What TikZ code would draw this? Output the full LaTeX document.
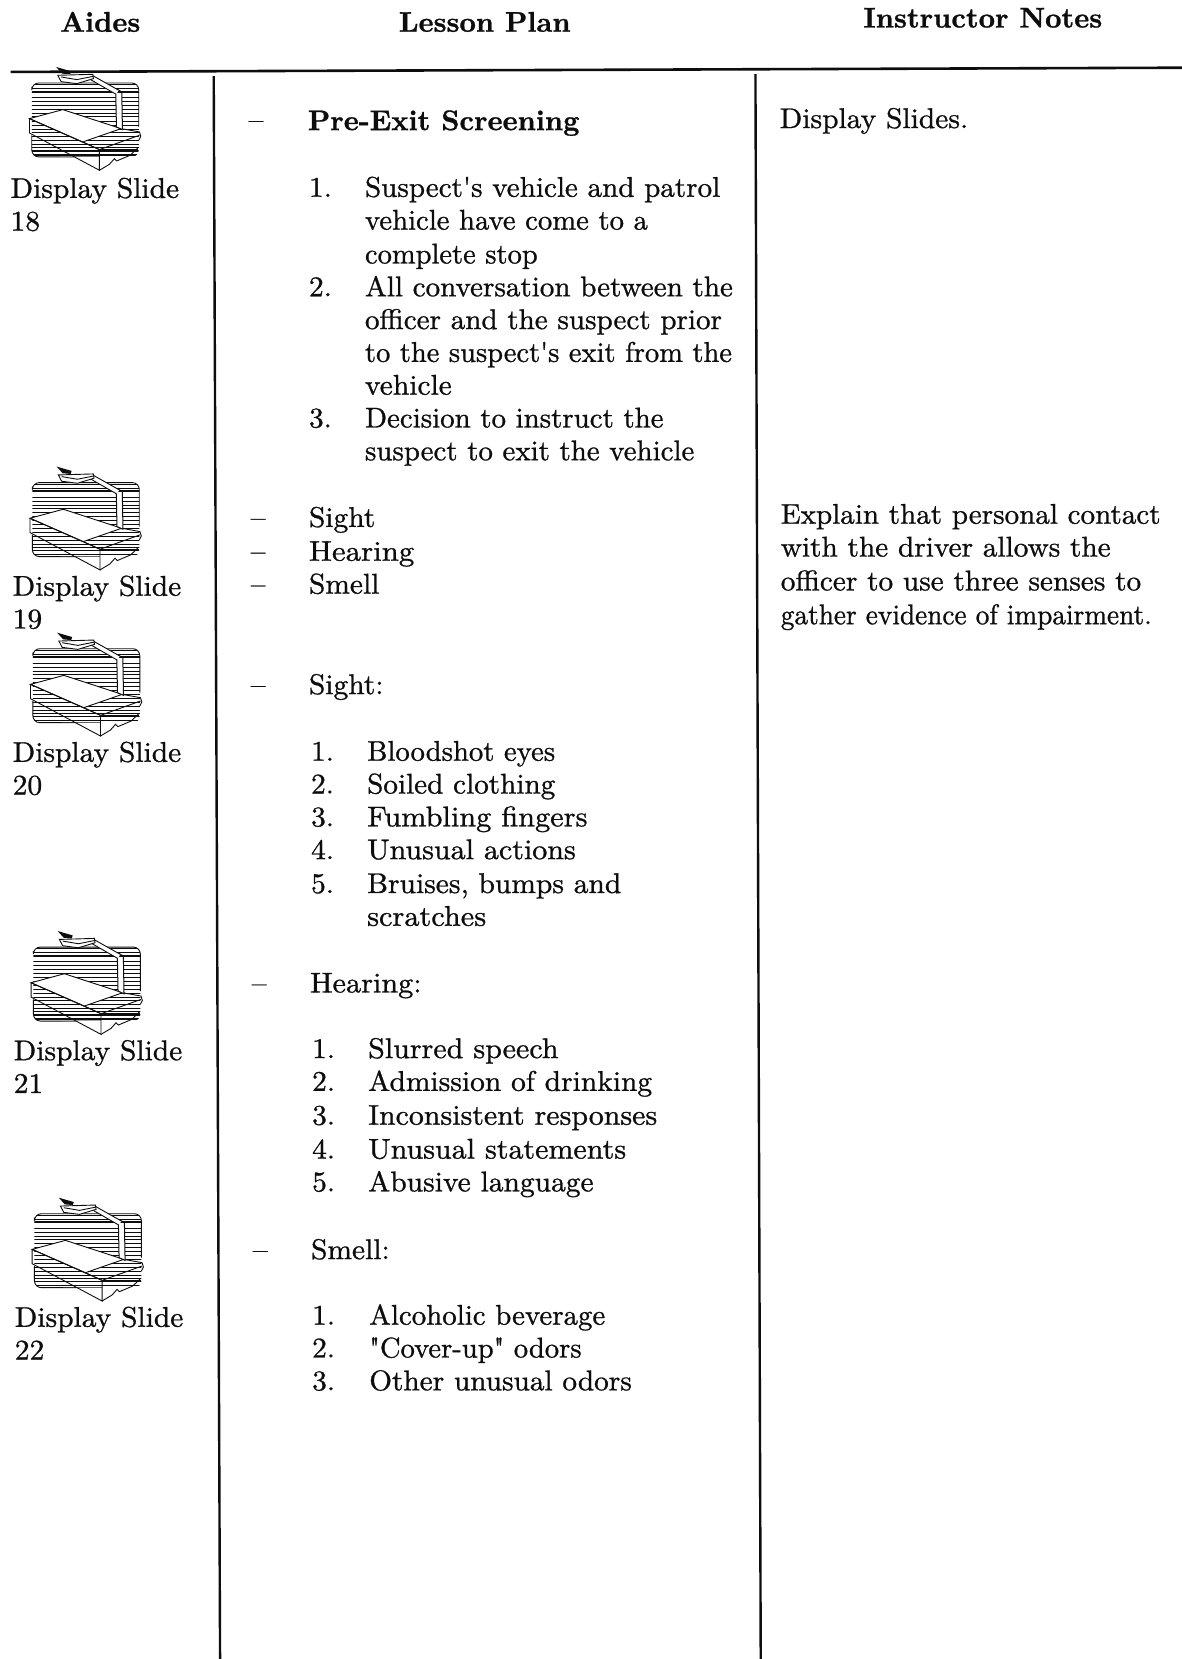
\documentclass[tikz,border=0pt]{standalone}
\usepackage{graphicx}
\newcounter{tn}
\newcommand{\heavy}{\special{pdf: code 2 Tr 0.09 w}}
\newcommand{\plain}{\special{pdf: code 0 Tr}}
\newcommand{\tx}[4][2.95]{\stepcounter{tn}\node[txt] (t\arabic{tn}) at (#2,#3) {\scalebox{#1}[2.85]{\heavy #4\plain}};}
\newcommand{\ap}{\textquotesingle}
\newcommand{\iconat}[2]{%
\begin{scope}[shift={(#1,#2)},x=0.3333pt,y=-0.3333pt]
 \begin{scope}
  \clip[rounded corners=7pt] (97,68) rectangle (418,290);
  \foreach \yy/\ww in {72/0.8,84/0.8,94/1.8,112/0.7,124/0.7,136/1.1,146/0.7,158/0.7,170/1,182/0.7,194/0.7,206/0.7,218/1,228/0.7,240/0.7,252/0.7,262/1,272/1.6,284/1.6}
   \draw[ink,line width=\ww pt] (90,\yy) -- (425,\yy);
 \end{scope}
 \draw[ink,line width=0.9pt,rounded corners=7pt] (97,80) -- (97,68) -- (418,68) -- (418,200);
 \draw[ink,line width=0.9pt,rounded corners=7pt] (97,225) -- (97,290) -- (300,290);
 % base and plate
 \fill[white] (183,290) -- (300,290) -- (300,330) -- (222,290) -- cycle;
 \fill[white] (300,330) -- (300,290) -- (400,290) -- (345,300) -- cycle;
 \fill[white] (90,175) -- (190,148) -- (365,205) -- (250,245) -- cycle;
 \draw[ink,line width=0.9pt] (90,175) -- (190,148) -- (365,205) -- (250,245) -- cycle;
 \draw[ink,line width=0.9pt] (90,175) -- (90,218) -- (300,330) -- (300,268) -- (90,175);
 \draw[ink,line width=0.9pt] (250,245) -- (300,268) -- (420,225);
 \draw[ink,line width=0.9pt] (365,205) -- (420,215) -- (424,228) -- (418,240);
 \draw[ink,line width=0.9pt] (300,330) -- (330,312) -- (345,295) -- (352,302) -- (392,285) -- (416,262);
 \fill[ink] (300,266) rectangle (416,274);
 % post and arm
 \fill[white] (349,100) -- (367,100) -- (369,208) -- (351,200) -- cycle;
 \draw[ink,line width=1pt] (349,100) -- (351,200) -- (369,208) -- (367,95) -- (355,88) -- (349,100);
 \fill[white] (270,56) -- (280,46) -- (358,90) -- (350,102) -- cycle;
 \draw[ink,line width=0.9pt] (270,56) -- (350,102) (280,46) -- (358,90);
 % head
 \fill[white] (175,45) -- (280,42) -- (282,55) -- (232,70) -- (185,64) -- cycle;
 \draw[ink,line width=0.9pt] (175,45) -- (280,42) -- (282,55) -- (232,70) -- (185,64) -- cycle;
 \draw[ink,line width=0.9pt] (185,50) -- (232,58) -- (282,48);
 \fill[ink] (170,20) -- (215,33) -- (212,42) -- (188,40) -- cycle;
\end{scope}}
\definecolor{ink}{gray}{0.05}
\tikzset{txt/.style={anchor=base west,inner sep=0pt,outer sep=0pt,text=ink},
  rulebar/.style={ink,line width=2.6pt},
  colbar/.style={ink,line width=2.4pt}}
\begin{document}
\begin{tikzpicture}[x=1.0582pt,y=-1.0582pt]
\useasboundingbox (0,0) rectangle (1117,1568);
\fill[white] (0,0) rectangle (1117,1568);
\coordinate (ruleL) at (10,68);
\coordinate (ruleR) at (1117,64);
\coordinate (c1t) at (202,72);
\coordinate (c1b) at (208,1568);
\coordinate (c2t) at (714,70);
\coordinate (c2b) at (719,1568);
\draw[rulebar] (ruleL) -- (ruleR);
\draw[colbar] (c1t) -- (c1b);
\draw[colbar] (c2t) -- (c2b);
\iconat{-0.5}{57}
\iconat{0}{434.7}
\iconat{0.5}{591.7}
\iconat{1}{873.7}
\iconat{2}{1125.7}
% headers
\tx[2.85]{57}{30}{\bfseries Aides}
\tx[2.85]{377}{30}{\bfseries Lesson Plan}
\tx[2.85]{816}{26}{\bfseries Instructor Notes}
% aides
\tx{10}{187}{Display Slide}\tx{10}{218}{18}
\tx{12}{563}{Display Slide}\tx{12}{594}{19}
\tx{12}{720}{Display Slide}\tx{12}{751}{20}
\tx{13}{1002}{Display Slide}\tx{13}{1033}{21}
\tx{14}{1254}{Display Slide}\tx{14}{1285}{22}
% lesson
\tx{235}{122}{--}\tx[2.85]{291}{123}{\bfseries Pre-Exit Screening}
\tx{292}{186}{1.}\tx[2.91]{345}{186}{Suspect\ap s vehicle and patrol}
\tx[2.87]{345}{217}{vehicle have come to a}
\tx[2.85]{345}{249}{complete stop}
\tx{292}{280}{2.}\tx[2.91]{345}{280}{All conversation between the}
\tx[2.91]{345}{311}{officer and the suspect prior}
\tx[2.85]{345}{342}{to the suspect\ap s exit from the}
\tx{345}{373}{vehicle}
\tx{292}{404}{3.}\tx[2.89]{345}{404}{Decision to instruct the}
\tx[2.89]{345}{435}{suspect to exit the vehicle}
\tx{237}{498}{--}\tx{292}{498}{Sight}
\tx{237}{530}{--}\tx[3.08]{292}{530}{Hearing}
\tx{237}{561}{--}\tx{292}{561}{Smell}
\tx{237}{656}{--}\tx{292}{656}{Sight:}
\tx{294}{719}{1.}\tx[2.87]{347}{719}{Bloodshot eyes}
\tx{294}{750}{2.}\tx[2.92]{347}{750}{Soiled clothing}
\tx{294}{781}{3.}\tx[3.03]{347}{781}{Fumbling fingers}
\tx{294}{812}{4.}\tx[3]{347}{812}{Unusual actions}
\tx{294}{844}{5.}\tx{347}{844}{Bruises, bumps and}
\tx[3.03]{347}{875}{scratches}
\tx{238}{938}{--}\tx[3.02]{293}{938}{Hearing:}
\tx{295}{1000}{1.}\tx[3]{348}{1000}{Slurred speech}
\tx{295}{1031}{2.}\tx{348}{1031}{Admission of drinking}
\tx{295}{1063}{3.}\tx[2.99]{348}{1063}{Inconsistent responses}
\tx{295}{1095}{4.}\tx[3]{348}{1095}{Unusual statements}
\tx{295}{1126}{5.}\tx{348}{1126}{Abusive language}
\tx{239}{1190}{--}\tx{294}{1190}{Smell:}
\tx{295}{1252}{1.}\tx[2.89]{349}{1252}{Alcoholic beverage}
\tx{295}{1283}{2.}\tx[2.86]{349}{1283}{\textquotedbl Cover-up\textquotedbl{} odors}
\tx{295}{1314}{3.}\tx[2.93]{349}{1314}{Other unusual odors}
% notes
\tx{737}{121}{Display Slides.}
\tx[2.91]{738}{495}{Explain that personal contact}
\tx[2.93]{738}{526}{with the driver allows the}
\tx[2.93]{738}{558}{officer to use three senses to}
\tx[2.73]{738}{590}{gather evidence of impairment.}
\end{tikzpicture}
\end{document}
